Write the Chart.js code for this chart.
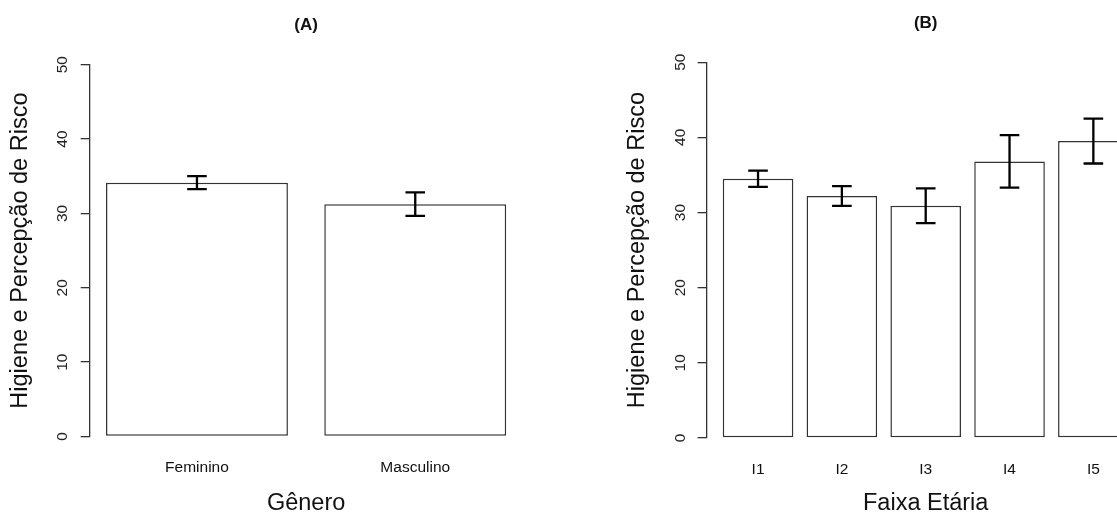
<!DOCTYPE html>
<html lang="pt">
<head>
<meta charset="utf-8">
<title>Higiene e Percepção de Risco</title>
<script src="https://cdn.jsdelivr.net/npm/chart.js@4/dist/chart.umd.min.js"></script>
<style>
  html, body { margin: 0; padding: 0; background: #ffffff; overflow: hidden; width: 1117px; height: 515px; }
  canvas { position: absolute; top: 0; }
  #painelA { left: 0; }
  #painelB { left: 560px; }
</style>
</head>
<body>
<canvas id="painelA" width="560" height="515"></canvas>
<canvas id="painelB" width="600" height="515"></canvas>
<script>
// Médias e erros-padrão por gênero
const generoLabels = ['Feminino', 'Masculino'];
const generoMedia = [34.14, 31.25];
const generoErro = [0.87, 1.58];

// Médias e erros-padrão por faixa etária
const faixaLabels = ['I1', 'I2', 'I3', 'I4', 'I5'];
const faixaMedia = [34.5, 32.2, 30.9, 36.8, 39.5];
const faixaErro = [1.08, 1.32, 2.3, 3.5, 2.98];

// Eixo y
const yTicks = [0, 10, 20, 30, 40, 50];
const yTitulo = 'Higiene e Percepção de Risco';

Chart.defaults.font.family = '"Liberation Sans", Arial, sans-serif';
Chart.defaults.color = '#111111';

const TEXTO = '#111111';
const LINHA = '#333333';

// Desenha as barras de erro (média ± erro) sobre cada barra
const barrasDeErro = {
  id: 'barrasDeErro',
  afterDatasetsDraw(chart, args, opts) {
    const { ctx } = chart;
    const y = chart.scales.y;
    const meta = chart.getDatasetMeta(0);
    ctx.save();
    ctx.strokeStyle = '#000000';
    ctx.lineWidth = 2.3;
    ctx.lineCap = 'butt';
    meta.data.forEach((bar, i) => {
      const m = opts.media[i], e = opts.erro[i];
      const top = y.getPixelForValue(m + e);
      const bot = y.getPixelForValue(m - e);
      const w = opts.meiaLargura;
      ctx.beginPath();
      ctx.moveTo(bar.x, top); ctx.lineTo(bar.x, bot);
      ctx.moveTo(bar.x - w, top); ctx.lineTo(bar.x + w, top);
      ctx.moveTo(bar.x - w, bot); ctx.lineTo(bar.x + w, bot);
      ctx.stroke();
    });
    ctx.restore();
  }
};

// Limites do eixo x como num barplot: barras de largura 1/1.2 do passo, com 4% de margem
function limitesX(n) {
  const frac = 1 / 1.2;
  const ext = 0.04 * (n - 1 + frac);
  return { min: -frac / 2 - ext, max: n - 1 + frac / 2 + ext, frac };
}

function painel(canvasId, cfg) {
  const lim = limitesX(cfg.labels.length);
  return new Chart(document.getElementById(canvasId), {
    type: 'bar',
    data: {
      datasets: [{
        data: cfg.labels.map((l, i) => ({ x: i, y: cfg.media[i] })),
        backgroundColor: '#ffffff',
        borderColor: LINHA,
        borderWidth: 1.5,
        borderSkipped: false,
        barPercentage: cfg.fracBarra || lim.frac,
        categoryPercentage: 1,
        clip: false
      }]
    },
    options: {
      responsive: false,
      animation: false,
      devicePixelRatio: 1,
      events: [],
      layout: { padding: cfg.padding },
      plugins: {
        legend: { display: false },
        tooltip: { enabled: false },
        title: {
          display: true,
          text: cfg.titulo,
          fullSize: false,
          color: TEXTO,
          font: { size: 17, weight: 'bold', lineHeight: 1.2 },
          padding: cfg.tituloPadding
        },
        barrasDeErro: { media: cfg.media, erro: cfg.erro, meiaLargura: 9.8 }
      },
      scales: {
        x: {
          type: 'linear',
          min: lim.min,
          max: lim.max,
          offset: false,
          grid: { display: false, drawTicks: false, offset: false },
          border: { display: false },
          afterBuildTicks: (s) => { s.ticks = cfg.labels.map((l, i) => ({ value: i })); },
          afterFit: (s) => { s.height = cfg.alturaX; },
          ticks: {
            autoSkip: false,
            maxRotation: 0,
            padding: cfg.ticksXPadding,
            color: TEXTO,
            font: { size: 15.5 },
            callback: (v) => cfg.labels[v]
          },
          title: {
            display: true,
            text: cfg.tituloX,
            color: TEXTO,
            font: { size: 23.5, lineHeight: 1 },
            padding: { top: 0, bottom: cfg.tituloXPadding }
          }
        },
        y: {
          min: 0,
          max: 50,
          afterBuildTicks: (s) => { s.ticks = yTicks.map(v => ({ value: v })); },
          afterFit: (s) => { s.width = cfg.larguraY; },
          grid: { drawOnChartArea: false, drawTicks: true, tickLength: 9.3, color: LINHA, lineWidth: 1.3 },
          border: { display: true, color: LINHA, width: 1.3 },
          ticks: {
            minRotation: 90,
            maxRotation: 90,
            crossAlign: 'center',
            padding: cfg.ticksYPadding,
            color: '#222222',
            font: { size: 15.5 }
          },
          title: {
            display: true,
            text: yTitulo,
            color: TEXTO,
            font: { size: 23.5, lineHeight: 1 },
            padding: { top: cfg.tituloYPadding, bottom: 0 }
          }
        }
      }
    },
    plugins: [barrasDeErro]
  });
}

painel('painelA', {
  titulo: '(A)',
  labels: generoLabels,
  media: generoMedia,
  erro: generoErro,
  tituloX: 'Gênero',
  padding: { left: 0, right: 37.8, top: 0, bottom: 0 },
  tituloPadding: { top: 15.5, bottom: 28.8 },
  larguraY: 90,
  alturaX: 78.5,
  ticksXPadding: 21.5,
  ticksYPadding: 9.5,
  tituloXPadding: 0,
  tituloYPadding: 8.5
});

painel('painelB', {
  titulo: '(B)',
  labels: faixaLabels,
  media: faixaMedia,
  erro: faixaErro,
  tituloX: 'Faixa Etária',
  padding: { left: 46.9, right: 15.5, top: 0, bottom: 0 },
  tituloPadding: { top: 13.5, bottom: 28.3 },
  larguraY: 100,
  alturaX: 77,
  ticksXPadding: 22.5,
  ticksYPadding: 8.5,
  tituloXPadding: 0,
  tituloYPadding: 18.5,
  fracBarra: 0.842
});
</script>
</body>
</html>
